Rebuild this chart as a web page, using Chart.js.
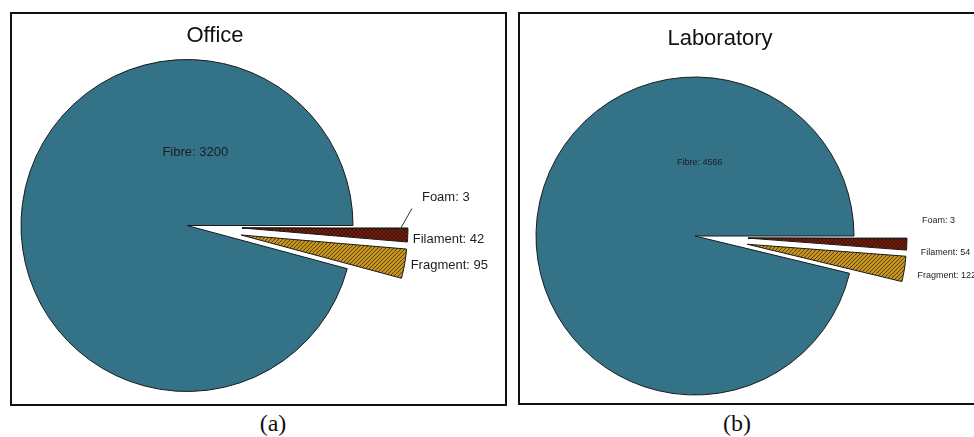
<!DOCTYPE html>
<html>
<head>
<meta charset="utf-8">
<script src="https://cdn.jsdelivr.net/npm/chart.js@4/dist/chart.umd.min.js"></script>
<style>
  body { margin:0; background:#fff; width:974px; height:437px; overflow:hidden; position:relative; font-family:"Liberation Sans", Arial, sans-serif; }
  .box { position:absolute; border:2px solid #111; box-sizing:border-box; }
  canvas { position:absolute; }
  .title { position:absolute; font-size:22px; color:#111; text-align:center; width:200px; }
  .cap { position:absolute; font-family:"Liberation Serif", "Times New Roman", serif; font-size:24px; color:#111; text-align:center; width:60px; }
</style>
</head>
<body>
<div class="box" style="left:10px;top:12px;width:497px;height:394px"></div>
<div class="box" style="left:518px;top:12px;width:470px;height:393px"></div>
<canvas id="office" width="497" height="394" style="left:10px;top:12px"></canvas>
<canvas id="lab" width="456" height="393" style="left:518px;top:12px"></canvas>
<div class="title" style="left:115px;top:22px">Office</div>
<div class="title" style="left:620px;top:25px">Laboratory</div>
<div class="cap" style="left:243px;top:410px">(a)</div>
<div class="cap" style="left:707px;top:410px">(b)</div>
<script>
// slice order goes clockwise from 3 o'clock
var categories = ['Foam', 'Filament', 'Fragment', 'Fibre'];
var officeCounts = [3, 42, 95, 3200];
var labCounts = [3, 54, 122, 4566];

var hatch = function(base, line, cross) {
  var c = document.createElement('canvas');
  c.width = 4; c.height = 4;
  var g = c.getContext('2d');
  g.fillStyle = base;
  g.fillRect(0, 0, 4, 4);
  g.strokeStyle = line;
  g.lineWidth = 1;
  g.beginPath();
  g.moveTo(-1, 5); g.lineTo(5, -1);
  g.moveTo(-3, 3); g.lineTo(3, -3);
  g.moveTo(1, 7); g.lineTo(7, 1);
  if (cross) {
    g.moveTo(-1, -1); g.lineTo(5, 5);
  }
  g.stroke();
  return g.createPattern(c, 'repeat');
};

var fibreCol = '#347387';
var filamentFill = hatch('#74200e', '#4a1006', true);
var fragmentFill = hatch('#c4961f', '#5e400c', false);

// pulls the small slices out, each along the bisector of slice dir[i]
var explodePlugin = {
  id: 'explode',
  afterDatasetUpdate: function(chart, args, opts) {
    var meta = chart.getDatasetMeta(0);
    var mids = meta.data.map(function(a) { return (a.startAngle + a.endAngle) / 2; });
    meta.data.forEach(function(arc, i) {
      var d = opts.dist[i] || 0;
      var mid = mids[opts.dir[i]];
      arc.x += Math.cos(mid) * d;
      arc.y += Math.sin(mid) * d;
    });
  }
};

var labelPlugin = {
  id: 'pieLabels',
  afterDatasetsDraw: function(chart, args, opts) {
    var ctx = chart.ctx;
    var meta = chart.getDatasetMeta(0);
    var vals = chart.data.datasets[0].data;
    ctx.save();
    ctx.fillStyle = '#1c1c24';
    ctx.font = opts.size + 'px "Liberation Sans", Arial, sans-serif';
    ctx.textBaseline = 'middle';
    meta.data.forEach(function(arc, i) {
      var txt = chart.data.labels[i] + ': ' + vals[i];
      var r = arc.outerRadius;
      if (i === 3) {
        ctx.textAlign = 'center';
        ctx.fillText(txt, arc.x + opts.inner[0] * r, arc.y + opts.inner[1] * r);
        return;
      }
      var mid = (arc.startAngle + arc.endAngle) / 2;
      var ox = arc.x + Math.cos(mid) * r;
      var oy = arc.y + Math.sin(mid) * r;
      var n = opts.nudge[i];
      ctx.textAlign = 'left';
      ctx.fillText(txt, ox + n[0], oy + n[1]);
      if (opts.leader && i === 0) {
        ctx.strokeStyle = '#333';
        ctx.lineWidth = 1;
        ctx.beginPath();
        ctx.moveTo(ox + opts.leader[0][0], oy + opts.leader[0][1]);
        ctx.lineTo(ox + opts.leader[1][0], oy + opts.leader[1][1]);
        ctx.stroke();
      }
    });
    ctx.restore();
  }
};

var makePie = function(id, counts, radius, pad, explode, lab) {
  return new Chart(document.getElementById(id), {
    type: 'pie',
    data: {
      labels: categories,
      datasets: [{
        data: counts,
        backgroundColor: ['#2a0a04', filamentFill, fragmentFill, fibreCol],
        borderColor: '#1a1a1a',
        borderWidth: 1,
        clip: false
      }]
    },
    options: {
      responsive: false,
      animation: false,
      events: [],
      rotation: 90,
      radius: radius,
      layout: { padding: pad },
      plugins: {
        legend: { display: false },
        tooltip: { enabled: false },
        explode: { dist: explode, dir: [1, 1, 2, 3] },
        pieLabels: lab
      }
    },
    plugins: [explodePlugin, labelPlugin]
  });
};

var officeChart = makePie('office', officeCounts, 166,
  { left: 0, right: 143, top: 33, bottom: 0 }, [55, 55, 55, 0],
  { size: 13, inner: [0.05, -0.44], nudge: [[14, -31], [5, 4], [6, 2]], leader: [[-9, 3], [4, -20]] });

var labChart = makePie('lab', labCounts, 159,
  { left: 0, right: 102, top: 55, bottom: 0 }, [53, 53, 53, 0],
  { size: 9, inner: [0.03, -0.46], nudge: [[15, -18], [14, 8], [13, 7]], leader: null });
</script>
</body>
</html>
